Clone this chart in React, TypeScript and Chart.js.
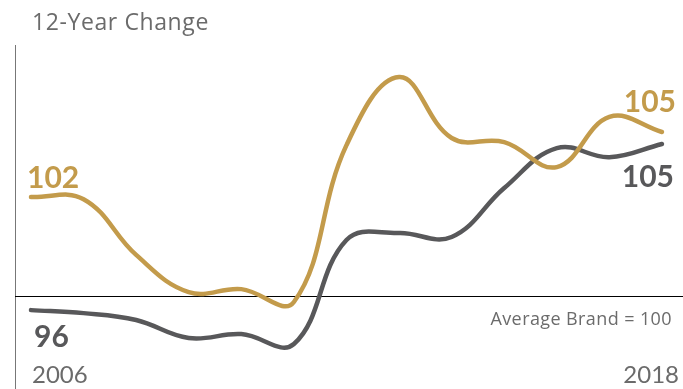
import React, { useEffect, useRef } from "react";
import { Chart, registerables } from "chart.js";

Chart.register(...registerables);

const years = [2006, 2007, 2008, 2009, 2010, 2011, 2012, 2013, 2014, 2015, 2016, 2017, 2018];
const brandValues = [103.3, 103.23, 101.37, 100.13, 100.23, 99.8, 105.03, 107.3, 105.27, 105.13, 104.3, 105.97, 105.47];
const averageValues = [99.53, 99.43, 99.2, 98.6, 98.73, 98.4, 101.87, 102.1, 101.97, 103.6, 104.93, 104.63, 105.07];
const baselineValue = 100;
const brandStartLabel = "102";
const brandEndLabel = "105";
const averageStartLabel = "96";
const averageEndLabel = "105";
const titleText = "12-Year Change";
const baselineText = "Average Brand = 100";

const GOLD = "#c39b4b";
const DARK = "#58585a";
const TEXT = "#6b6b6b";
const FONT = "Lato, 'Open Sans', sans-serif";
const FONT2 = "'Open Sans', Lato, sans-serif";

export default function App() {
  const ref = useRef<HTMLCanvasElement | null>(null);
  useEffect(() => {
    if (!ref.current) return;
    const overlay = {
      id: "overlay",
      beforeDatasetsDraw(chart: any) {
        const { ctx, chartArea, scales } = chart;
        const y = scales.y;
        ctx.save();
        ctx.strokeStyle = "#777";
        ctx.lineWidth = 1;
        ctx.beginPath();
        ctx.moveTo(chartArea.left + 0.5, chartArea.top);
        ctx.lineTo(chartArea.left + 0.5, chartArea.bottom);
        ctx.stroke();
        const by = Math.round(y.getPixelForValue(baselineValue)) + 0.5;
        ctx.strokeStyle = "#000";
        ctx.beginPath();
        ctx.moveTo(chartArea.left, by);
        ctx.lineTo(chartArea.right, by);
        ctx.stroke();
        ctx.restore();
      },
      afterDatasetsDraw(chart: any) {
        const { ctx, chartArea, scales } = chart;
        const x = scales.x;
        const y = scales.y;
        ctx.save();
        ctx.textBaseline = "alphabetic";
        ctx.fillStyle = TEXT;
        ctx.font = `23px ${FONT2}`;
        (ctx as any).letterSpacing = "0.6px";
        ctx.textAlign = "left";
        ctx.fillText(titleText, 32, 30);
        (ctx as any).letterSpacing = "0px";
        ctx.font = `24px ${FONT}`;
        ctx.fillText(String(years[0]), x.getPixelForValue(years[0]) + 1, 383);
        ctx.textAlign = "right";
        ctx.fillText(String(years[years.length - 1]), x.getPixelForValue(years[years.length - 1]) + 17, 383);
        const by = y.getPixelForValue(baselineValue);
        ctx.font = `18px ${FONT2}`;
        (ctx as any).letterSpacing = "0.4px";
        ctx.fillText(baselineText, chartArea.right - 11, by + 29);
        (ctx as any).letterSpacing = "0px";
        const n = years.length - 1;
        const gx0 = x.getPixelForValue(years[0]);
        const gy0 = y.getPixelForValue(brandValues[0]);
        const ay0 = y.getPixelForValue(averageValues[0]);
        const gxn = x.getPixelForValue(years[n]);
        const gyn = y.getPixelForValue(brandValues[n]);
        const ayn = y.getPixelForValue(averageValues[n]);
        ctx.font = `bold 30px ${FONT}`;
        ctx.textAlign = "left";
        ctx.fillStyle = GOLD;
        ctx.fillText(brandStartLabel, gx0 - 4, gy0 - 9);
        ctx.fillStyle = DARK;
        ctx.fillText(averageStartLabel, gx0 + 3, ay0 + 37);
        ctx.textAlign = "right";
        ctx.fillStyle = GOLD;
        ctx.fillText(brandEndLabel, gxn + 14, gyn - 20);
        ctx.fillStyle = DARK;
        ctx.fillText(averageEndLabel, gxn + 12, ayn + 43);
        ctx.restore();
      },
    };
    const chart = new Chart(ref.current, {
      type: "line",
      data: {
        datasets: [
          {
            label: "Brand",
            data: years.map((yr, i) => ({ x: yr, y: brandValues[i] })),
            borderColor: GOLD,
            borderWidth: 4.5,
            pointRadius: 0,
            tension: 0.4,
            fill: false,
            borderCapStyle: "round",
          },
          {
            label: "Average",
            data: years.map((yr, i) => ({ x: yr, y: averageValues[i] })),
            borderColor: DARK,
            borderWidth: 4.5,
            pointRadius: 0,
            tension: 0.4,
            fill: false,
            borderCapStyle: "round",
          },
        ],
      },
      options: {
        animation: false,
        responsive: false,
        maintainAspectRatio: false,
        layout: { padding: { left: 15, top: 45, right: 0, bottom: 0 } },
        plugins: { legend: { display: false }, tooltip: { enabled: false }, title: { display: false } },
        scales: {
          x: { type: "linear", display: false, min: 2005.696, max: 2018.4 },
          y: { type: "linear", display: false, min: 96.9, max: 108.37 },
        },
      },
      plugins: [overlay],
    } as any);
    return () => chart.destroy();
  }, []);
  return (
    <div style={{ position: "fixed", left: 0, top: 0, width: 683, height: 389, background: "#fff" }}>
      <canvas ref={ref} width={683} height={389} style={{ display: "block", width: 683, height: 389 }} />
    </div>
  );
}
